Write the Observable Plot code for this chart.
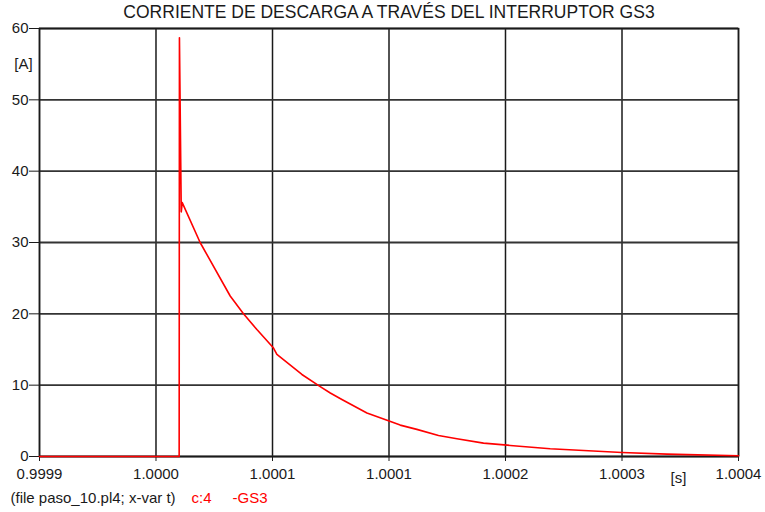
<!DOCTYPE html>
<html>
<head>
<meta charset="utf-8">
<script src="https://cdn.jsdelivr.net/npm/d3@7"></script>
<script src="https://cdn.jsdelivr.net/npm/@observablehq/plot@0.6"></script>
<style>
  html, body { margin: 0; padding: 0; background: #fff; }
</style>
</head>
<body>
<div id="chart"></div>
<script>
// Time (s) and current (A)
const time = [0.9999, 0.9999999, 1.0000001, 1.0000014, 1.0000021, 1.0000149, 1.0000364, 1.0000459,
  1.0000555, 1.0000674, 1.0000698, 1.0000877, 1.0001008, 1.000108, 1.0001163, 1.0001342,
  1.0001496, 1.000158, 1.0001699, 1.0001854, 1.0001986, 1.0002176, 1.0002367, 1.0002653,
  1.0003166, 1.0003488, 1.0004];
const current = [0, 0, 58.7, 34.3, 35.6, 30.0, 22.5, 20.0,
  17.8, 15.2, 14.3, 11.5, 9.8, 8.9, 8.0, 6.1,
  5.0, 4.4, 3.8, 2.95, 2.5, 1.87, 1.55, 1.08,
  0.56, 0.33, 0.1];

const xTickValues = [0.9999, 0.99998333, 1.00006667, 1.00015, 1.00023333, 1.00031667, 1.0004];
const xTickLabels = ["0.9999", "1.0000", "1.0001", "1.0001", "1.0002", "1.0003", "1.0004"];
const yTickValues = [0, 10, 20, 30, 40, 50, 60];

const titleText = "CORRIENTE DE DESCARGA A TRAVÉS DEL INTERRUPTOR GS3";
const footerText = "(file paso_10.pl4; x-var t)";
const seriesCode = "c:4";
const seriesName = "-GS3";
const yUnit = "[A]";
const xUnit = "[s]";

const data = time.map((t, i) => ({t, v: current[i]}));

const font = "'Liberation Sans', Arial, sans-serif";
const ink = "#1a1a1a";

const chart = Plot.plot({
  width: 765,
  height: 512,
  marginTop: 28,
  marginBottom: 56,
  marginLeft: 39,
  marginRight: 27,
  style: {fontFamily: font, fontSize: "15px", background: "#fff", color: ink},
  x: {domain: [0.9999, 1.0004], label: null},
  y: {domain: [0, 60], label: null},
  marks: [
    Plot.gridX(xTickValues, {stroke: ink, strokeOpacity: 1, strokeWidth: 1.5}),
    Plot.gridY(yTickValues, {stroke: "#333", strokeOpacity: 1, strokeWidth: 1.8}),
    Plot.frame({stroke: ink, strokeWidth: 1.5}),
    Plot.axisX({ticks: xTickValues, tickFormat: (d, i) => xTickLabels[i], tickSize: 5, tickPadding: 7, label: null, fontSize: 15}),
    Plot.axisY({ticks: yTickValues, tickSize: 10, tickPadding: 1, label: null, fontSize: 15}),
    Plot.line(data, {x: "t", y: "v", stroke: "#ff0000", strokeWidth: 1.6}),
    Plot.text([titleText], {frameAnchor: "top", dy: -23, fontSize: 17.5, fill: ink}),
    Plot.text([yUnit], {frameAnchor: "top-left", dx: -16, dy: 30, fontSize: 15, fill: ink, textAnchor: "middle"}),
    Plot.text([xUnit], {frameAnchor: "bottom-left", dx: 639, dy: 26, fontSize: 15, fill: ink, textAnchor: "middle"}),
    Plot.text([footerText], {frameAnchor: "bottom-left", dx: -29, dy: 46, fontSize: 15, fill: ink, textAnchor: "start"}),
    Plot.text([seriesCode], {frameAnchor: "bottom-left", dx: 152, dy: 46, fontSize: 15, fill: "#ff0000", textAnchor: "start"}),
    Plot.text([seriesName], {frameAnchor: "bottom-left", dx: 193, dy: 46, fontSize: 15, fill: "#ff0000", textAnchor: "start"})
  ]
});
document.getElementById("chart").append(chart);
</script>
</body>
</html>
